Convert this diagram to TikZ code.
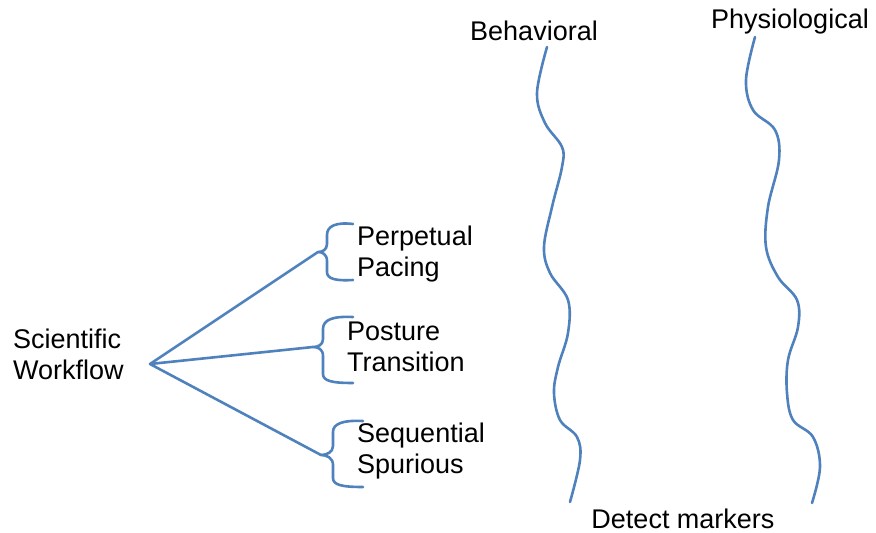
\documentclass[tikz,border=0pt]{standalone}
\usepackage{fontspec}
\setmainfont{Liberation Sans}
\begin{document}
\begin{tikzpicture}[x=1pt,y=-1pt,
  lbl/.style={inner sep=0pt,align=left,font=\fontsize{27}{31}\selectfont},
  wire/.style={draw=wireblue,line width=2.6pt,line cap=round,line join=round}]
\definecolor{wireblue}{HTML}{4F81BD}
\useasboundingbox (0,0) rectangle (876,533);

% labels (two-line labels are placed by the baseline of their last line)
\node[lbl,anchor=base west] (sw)  at (13,379)  {Scientific\\Workflow};
\node[lbl,anchor=base west] (pp)  at (357,276) {Perpetual\\Pacing};
\node[lbl,anchor=base west] (pt)  at (347,371) {Posture\\Transition};
\node[lbl,anchor=base west] (ss)  at (357,473) {Sequential\\Spurious};
\node[lbl,anchor=base] (beh) at (534,40)  {Behavioral};
\node[lbl,anchor=base] (phy) at (790,28)  {Physiological};
\node[lbl,anchor=base] (det) at (683,528) {Detect markers};

% bracket tips and the workflow apex
\coordinate (apex) at (150,364);
\coordinate (t1) at (318,252);
\coordinate (t2) at (313,347);
\coordinate (t3) at (321,455);

% connectors from the workflow to each bracket
\draw[wire] (apex) -- (t1);
\draw[wire] (apex) -- (t2);
\draw[wire] (apex) -- (t3);

% curly brackets
\draw[wire] (353,224) .. controls (336,222) and (327,226) .. (327,235) -- (327,244)
  .. controls (327,250) and (322,252) .. (t1)
  .. controls (322,252) and (327,254) .. (327,261) -- (327,272)
  .. controls (327,279) and (336,281) .. (353,280);
\draw[wire] (353,317) .. controls (332,316) and (323,320) .. (323,329) -- (323,339)
  .. controls (323,345) and (318,347) .. (t2)
  .. controls (318,347) and (323,349) .. (323,356) -- (323,374)
  .. controls (323,381) and (332,383) .. (353,383);
\draw[wire] (363,421) .. controls (342,420) and (333,424) .. (333,432) -- (333,446)
  .. controls (333,452) and (327,455) .. (t3)
  .. controls (327,455) and (333,458) .. (333,465) -- (333,478)
  .. controls (333,485) and (342,487) .. (363,487);

% wavy lines running down to the markers
\coordinate (b0) at (547,47);
\coordinate (b1) at (570,502);
\draw[wire] plot[smooth,tension=0.6] coordinates {(b0) (537,93) (545,123) (562,147) (562,167)
  (552,207) (544,247) (550,273) (568,300) (568,333) (558,367) (554,393) (560,420)
  (577,437) (580,460) (b1)};
\coordinate (p0) at (755,37);
\coordinate (p1) at (812,503);
\draw[wire] plot[smooth,tension=0.6] coordinates {(p0) (746,80) (753,110) (775,130) (779,160)
  (768,207) (766,247) (778,277) (797,300) (798,327) (788,360) (787,393) (793,420)
  (813,437) (820,467) (p1)};
\end{tikzpicture}
\end{document}
